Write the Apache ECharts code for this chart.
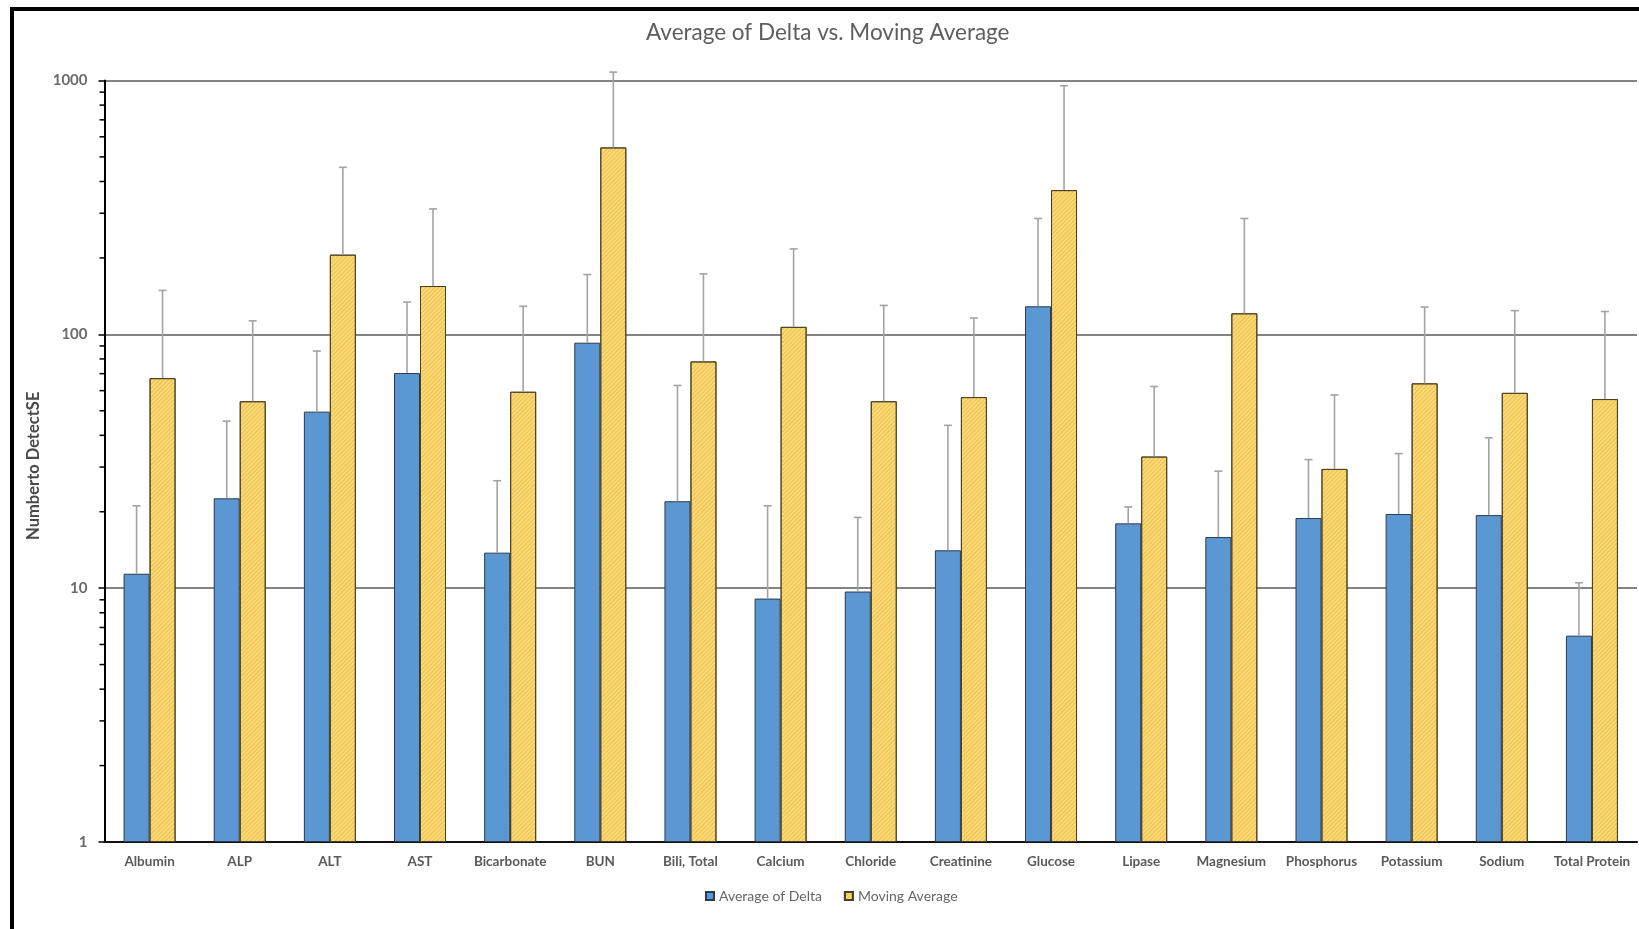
<!DOCTYPE html>
<html>
<head>
<meta charset="utf-8">
<title>Average of Delta vs. Moving Average</title>
<script src="https://cdn.jsdelivr.net/npm/echarts@6/dist/echarts.min.js"></script>
<style>
  html, body { margin: 0; padding: 0; background: #fff; }
  #chart { position: absolute; left: 0; top: 0; width: 1639px; height: 929px; }
  #frame { position: absolute; left: 10px; top: 7px; width: 1700px; height: 1000px;
           border-top: 4px solid #000; border-left: 4px solid #000; pointer-events: none; }
</style>
</head>
<body>
<div id="chart"></div>
<div id="frame"></div>
<script>
// Analytes on the category axis
const categories = ['Albumin', 'ALP', 'ALT', 'AST', 'Bicarbonate', 'BUN', 'Bili, Total', 'Calcium',
  'Chloride', 'Creatinine', 'Glucose', 'Lipase', 'Magnesium', 'Phosphorus', 'Potassium', 'Sodium', 'Total Protein'];

// Number to detect SE, average of delta
const deltaValues = [11.4, 22.6, 49.6, 70.4, 13.8, 92.7, 22.0, 9.1, 9.7, 14.1, 129, 18.0, 15.9, 18.9, 19.6, 19.4, 6.5];
// Upper end of the error bar for average of delta
const deltaErrTop = [21.1, 45.5, 85.9, 134, 26.5, 172, 62.9, 21.1, 19.0, 43.8, 286, 20.9, 28.9, 32.1, 33.9, 39.1, 10.5];

// Number to detect SE, moving average
const movingValues = [67.2, 54.5, 206, 155, 59.4, 545, 78.2, 107, 54.5, 56.6, 370, 33.0, 121, 29.5, 64.1, 58.8, 55.6];
// Upper end of the error bar for moving average
const movingErrTop = [149, 113, 455, 312, 129, 1079, 173, 217, 130, 116, 954, 62.3, 286, 57.7, 128, 124, 123];

// Log-axis labels and minor tick positions
const yTickLabels = ['1', '10', '100', '1000'];
const minorTickValues = [2, 3, 4, 5, 6, 7, 8, 9, 20, 30, 40, 50, 60, 70, 80, 90, 200, 300, 400, 500, 600, 700, 800, 900];

const FONT = 'Lato, "Open Sans", "Liberation Sans", sans-serif';
const BAR_W = 26;

function errorBarRenderer(offset) {
  return function (params, api) {
    const i = api.value(0);
    const base = api.coord([i, api.value(1)]);
    const top = api.coord([i, api.value(2)]);
    const x = base[0] + offset;
    const st = { stroke: '#a3a3a3', lineWidth: 1.6 };
    return {
      type: 'group',
      children: [
        { type: 'line', shape: { x1: x, y1: base[1], x2: x, y2: top[1] }, style: st },
        { type: 'line', shape: { x1: x - 4, y1: top[1], x2: x + 4, y2: top[1] }, style: st }
      ]
    };
  };
}

function minorTickRenderer(params, api) {
  const y = api.coord([0, api.value(1)])[1];
  const x = params.coordSys.x;
  return {
    type: 'line',
    shape: { x1: x - 5, y1: y, x2: x, y2: y },
    style: { stroke: '#000', lineWidth: 1.5 }
  };
}

const chart = echarts.init(document.getElementById('chart'), null, { renderer: 'canvas' });

chart.setOption({
  animation: false,
  backgroundColor: '#fff',
  title: {
    text: 'Average of Delta vs. Moving Average',
    left: 641,
    top: 16,
    textStyle: { fontFamily: FONT, fontSize: 22.5, fontWeight: 'normal', color: '#5e5e5e' }
  },
  legend: {
    data: ['Average of Delta', 'Moving Average'],
    bottom: 21,
    left: 700,
    itemWidth: 8,
    itemHeight: 8,
    itemGap: 22,
    icon: 'rect',
    textStyle: { fontFamily: FONT, fontSize: 14, color: '#666' }
  },
  grid: { left: 104.5, right: 2, top: 80.5, bottom: 87, containLabel: false },
  xAxis: {
    type: 'category',
    data: categories,
    axisLine: { lineStyle: { color: '#111', width: 2 } },
    axisTick: { show: false },
    axisLabel: { interval: 0, margin: 13, fontFamily: FONT, fontSize: 13.5, fontWeight: 'bold', color: '#5a5a5a' },
    splitLine: { show: false }
  },
  yAxis: {
    type: 'log',
    logBase: 10,
    min: 1,
    max: 1000,
    name: 'Numberto DetectSE',
    nameLocation: 'middle',
    nameGap: 60,
    nameTextStyle: { fontFamily: FONT, fontSize: 16.5, fontWeight: 'bold', color: '#4a4a4a', padding: [0, 9, 0, 0] },
    axisLine: { show: true, lineStyle: { color: '#000', width: 2 } },
    axisTick: { show: true, length: 6, lineStyle: { color: '#000', width: 1.5 } },
    axisLabel: {
      margin: 17,
      fontFamily: FONT, fontSize: 15, fontWeight: 'bold', color: '#6a6a6a',
      formatter: function (v) {
        const idx = Math.round(Math.log10(v));
        return yTickLabels[idx] !== undefined ? yTickLabels[idx] : '';
      }
    },
    splitLine: { show: true, lineStyle: { color: '#5a5a5a', width: 1.6 } }
  },
  series: [
    {
      name: 'Average of Delta',
      type: 'bar',
      data: deltaValues,
      barWidth: BAR_W,
      barGap: '0%',
      itemStyle: { color: '#5b97d3', borderColor: '#2b3a4d', borderWidth: 1 },
      z: 2
    },
    {
      name: 'Moving Average',
      type: 'bar',
      data: movingValues,
      barWidth: BAR_W,
      barGap: '0%',
      itemStyle: {
        color: '#fedb75',
        borderColor: '#4a4226',
        borderWidth: 1,
        decal: {
          symbol: 'rect',
          symbolSize: 1,
          dashArrayX: [1, 0],
          dashArrayY: [1, 2],
          rotation: -Math.PI / 4,
          color: 'rgba(205, 150, 40, 0.45)'
        }
      },
      z: 2
    },
    {
      name: 'deltaError',
      type: 'custom',
      renderItem: errorBarRenderer(-BAR_W / 2),
      encode: { x: 0, y: [1, 2] },
      data: deltaValues.map((v, i) => [i, v, deltaErrTop[i]]),
      clip: false,
      silent: true,
      z: 3
    },
    {
      name: 'movingError',
      type: 'custom',
      renderItem: errorBarRenderer(BAR_W / 2),
      encode: { x: 0, y: [1, 2] },
      data: movingValues.map((v, i) => [i, v, movingErrTop[i]]),
      clip: false,
      silent: true,
      z: 3
    },
    {
      name: 'minorTicks',
      type: 'custom',
      renderItem: minorTickRenderer,
      encode: { x: 0, y: 1 },
      data: minorTickValues.map(v => [0, v]),
      clip: false,
      silent: true,
      z: 4
    }
  ]
});
</script>
</body>
</html>
